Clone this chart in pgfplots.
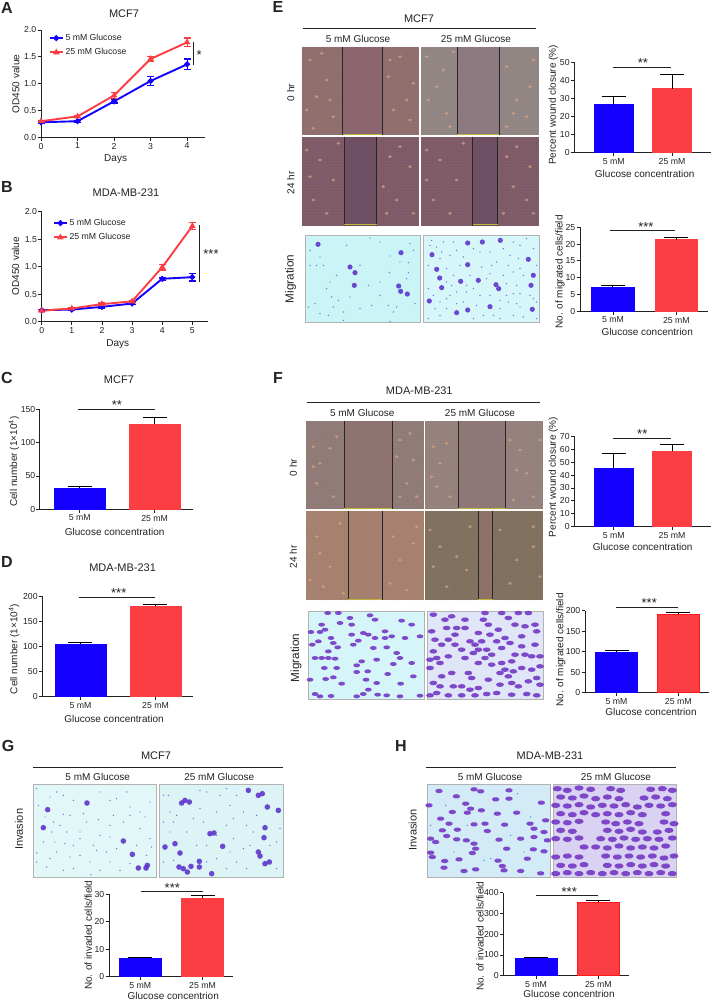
\documentclass[border=0pt]{standalone}
\usepackage{fontspec}
\setmainfont{Liberation Sans}
\usepackage{pgfplots}
\pgfplotsset{compat=1.18}
\usetikzlibrary{patterns}

\definecolor{ink}{HTML}{222222}
\definecolor{gblue}{HTML}{1400FF}
\definecolor{gred}{HTML}{FA3E44}
\definecolor{brightred}{HTML}{FF1A1A}
\definecolor{stain}{HTML}{5F36CC}
\definecolor{stainb}{HTML}{7438C4}
\definecolor{speck}{HTML}{4A50D8}
\definecolor{fleck}{HTML}{D9A585}
\newcommand\fs[1]{\fontsize{#1}{#1}\selectfont}

% all positions are reference pixels, 1px = 1pt, y downwards
\pgfplotsset{
  panel/.style n args={4}{
    at={(#1pt,-#2pt)},anchor=south west,width=#3pt,height=#4pt,
    scale only axis,clip=false,axis lines=left,
    axis line style={-,line width=1pt,ink},
    tick style={line width=.9pt,ink},tick align=outside,major tick length=3.5pt,
    ticklabel style={font=\fs{8.7},text=ink},
    xticklabel style={inner sep=2pt},yticklabel style={inner sep=1pt},
    /pgf/number format/assume math mode=true,
    ymin=0
  },
  xlab/.style n args={3}{xlabel={#1},xlabel style={at={(axis description cs:#2,#3)},anchor=center,font=\fs{10},text=ink}},
  ylab/.style n args={3}{ylabel={#1},ylabel style={at={(axis description cs:#2,#3)},anchor=center,font=\fs{10},text=ink}},
  ttl/.style n args={3}{title={#1},title style={at={(axis description cs:#2,#3)},anchor=center,font=\fs{11},text=ink}},
  catticks/.style={xtick={1,2},xticklabels={5 mM,25 mM}},
  onedec/.style={yticklabel style={/pgf/number format/.cd,fixed,fixed zerofill,precision=1}},
  barplot/.style={ybar,bar width=#1pt,bar shift=0pt,line width=.8pt,
    error bars/y dir=plus,error bars/y explicit,
    error bars/error bar style={line width=1pt,black},
    error bars/error mark options={black,mark size=12pt,line width=1pt,rotate=90}},
  linesty/.style={line width=1.9pt,color=#1,mark size=1.9pt,
    error bars/y dir=both,error bars/y explicit,
    error bars/error bar style={line width=1.1pt,#1},
    error bars/error mark options={#1,mark size=3.5pt,line width=1.1pt,rotate=90}},
  shortleg/.style={legend image code/.code={
    \draw[mark repeat=2,mark phase=2,##1] plot coordinates {(0cm,0cm) (0.22cm,0cm) (0.44cm,0cm)};}},
  sigline/.style={forget plot,mark=none,line width=1pt,ink},
  crop/.style n args={4}{at={(#1pt,-#2pt)},anchor=south west,width=#3pt,height=#4pt,
    scale only axis,hide axis,y dir=reverse,xmin=0,ymin=0},
  big/.style={only marks,mark=*,mark size=#1,color=stain,mark options={line width=0pt,fill opacity=.9,draw opacity=0}},
  slant/.style 2 args={only marks,mark=*,mark size=#1,color=stainb,mark options={line width=0pt,fill opacity=.9,draw opacity=0,xscale=1.7,rotate=#2}},
  dot/.style={only marks,mark=*,mark size=.7pt,color=speck,mark options={line width=0pt,fill opacity=.85,draw opacity=0}},
  flecks/.style={only marks,mark=*,mark size=1.5pt,color=fleck,mark options={line width=0pt,fill opacity=.7,draw opacity=0,xscale=1.3}}
}
\newcommand\bars[6]{%
  \addplot[barplot={#1},fill=gblue,draw=gblue] coordinates {(1,#2) +- (0,#3)};
  \addplot[barplot={#1},fill=gred,draw=#6] coordinates {(2,#4) +- (0,#5)};
}
\tikzset{stars/.style={font=\fs{13},text=ink,inner sep=0pt,anchor=center,yshift=-2.8pt},
  plab/.style={font=\fs{16}\bfseries,text=ink,inner sep=0pt,anchor=center},
  txt/.style={font=\fs{10},text=ink,inner sep=0pt,anchor=center}}
% photo frame: x1 y1 x2 y2 colour
\newcommand\photo[5]{\definecolor{tmpc}{HTML}{#5}\fill[tmpc,draw=black!30,line width=.8pt] (#1pt,-#2pt) rectangle (#3pt,-#4pt);}
% wound photo: x1 y1 x2 y2 line1 line2 cells gap grain
\newcommand\wound[9]{%
  \definecolor{tmpa}{HTML}{#7}\definecolor{tmpb}{HTML}{#8}\definecolor{tmpc}{HTML}{#9}%
  \fill[tmpa] (#1pt,-#2pt) rectangle (#3pt,-#4pt);
  \fill[pattern=crosshatch dots,pattern color=tmpc,opacity=.3] (#1pt,-#2pt) rectangle (#3pt,-#4pt);
  \fill[tmpb] (#5pt,-#2pt) rectangle (#6pt,-#4pt);
  \draw[line width=1pt,black!85] (#5pt,-#2pt) -- (#5pt,-#4pt) (#6pt,-#2pt) -- (#6pt,-#4pt);
  \draw[line width=.9pt,yellow!70!black] ([yshift=1pt]#5pt,-#4pt) -- ([yshift=1pt]#6pt,-#4pt);
}
\newcommand\topline[6]{%
  \node[txt,font=\fs{11}] at (#1pt,-#2pt) {#3};
  \draw[line width=1pt,ink] (#4pt,-#6pt) -- (#5pt,-#6pt);
}

\begin{document}
\begin{tikzpicture}
\useasboundingbox (0,0) rectangle (712pt,-1000pt);

% panel letters
\node[plab] at (7pt,-8pt) {A};
\node[plab] at (7pt,-187pt) {B};
\node[plab] at (7pt,-378pt) {C};
\node[plab] at (7pt,-562pt) {D};
\node[plab] at (278pt,-7pt) {E};
\node[plab] at (278pt,-378pt) {F};
\node[plab] at (8pt,-746pt) {G};
\node[plab] at (401pt,-746pt) {H};

% A
\begin{axis}[panel={41}{137.3}{164}{107.3},xmin=0,xmax=4.49,ymax=2,
  xtick={0,1,2,3,4},ytick={0,0.5,1,1.5,2},onedec,shortleg,
  ttl={MCF7}{.506}{1.10},xlab={Days}{.455}{-.199},ylab={OD450 value}{-.154}{.497},
  legend style={at={(axis description cs:.03,1.0)},anchor=north west,draw=none,fill=none,
    font=\fs{8.7},row sep=2.5pt,text=ink},legend cell align=left]
\addplot[linesty=gblue,mark=*] coordinates {(0,0.28) +- (0,0.02) (1,0.30) +- (0,0.02) (2,0.67) +- (0,0.03) (3,1.05) +- (0,0.08) (4,1.36) +- (0,0.10)};
\addplot[linesty=gred,mark=triangle*] coordinates {(0,0.30) +- (0,0.02) (1,0.39) +- (0,0.02) (2,0.78) +- (0,0.05) (3,1.46) +- (0,0.05) (4,1.77) +- (0,0.08)};
\legend{5 mM Glucose,25 mM Glucose}
\addplot[sigline] coordinates {(4.18,1.78) (4.18,1.35)};
\node[stars] at (axis cs:4.33,1.59) {*};
\end{axis}

% B
\begin{axis}[panel={41.7}{321.7}{166}{110},xmin=0,xmax=5.51,ymax=2,
  xtick={0,1,2,3,4,5},ytick={0,0.5,1,1.5,2},onedec,shortleg,
  ttl={MDA-MB-231}{.508}{1.115},xlab={Days}{.458}{-.206},ylab={OD450 value}{-.157}{.505},
  legend style={at={(axis description cs:.05,.97)},anchor=north west,draw=none,fill=none,
    font=\fs{8.7},row sep=2.5pt,text=ink},legend cell align=left]
\addplot[linesty=gblue,mark=*] coordinates {(0,0.21) +- (0,0.02) (1,0.22) +- (0,0.02) (2,0.27) +- (0,0.02) (3,0.33) +- (0,0.02) (4,0.78) +- (0,0.03) (5,0.81) +- (0,0.07)};
\addplot[linesty=gred,mark=triangle*] coordinates {(0,0.20) +- (0,0.02) (1,0.24) +- (0,0.02) (2,0.32) +- (0,0.02) (3,0.37) +- (0,0.02) (4,0.99) +- (0,0.05) (5,1.74) +- (0,0.07)};
\legend{5 mM Glucose,25 mM Glucose}
\addplot[sigline] coordinates {(5.24,1.76) (5.24,0.72)};
\node[stars] at (axis cs:5.62,1.285) {***};
\end{axis}

% C
\begin{axis}[panel={40}{509.3}{152.7}{100},xmin=.471,xmax=2.507,ymax=150,catticks,ytick={0,50,100,150},
  ttl={MCF7}{.517}{1.236},xlab={Glucose concentration}{.489}{-.227},ylab={Cell number (1×10\textsuperscript{4})}{-.170}{.476}]
\bars{51}{32}{1.5}{128}{10}{gred}
\addplot[sigline] coordinates {(.98,149) (2,149)};
\node[stars] at (axis cs:1.497,161) {**};
\end{axis}

% D
\begin{axis}[panel={42.3}{696.7}{151}{100.4},xmin=.491,xmax=2.504,ymax=200,catticks,ytick={0,50,100,150,200},
  ttl={MDA-MB-231}{.532}{1.222},xlab={Glucose concentration}{.475}{-.222},ylab={Cell number (1×10\textsuperscript{4})}{-.187}{.475}]
\bars{51}{104}{3}{180}{4}{gred}
\addplot[sigline] coordinates {(.977,198.6) (1.99,198.6)};
\node[stars] at (axis cs:1.51,213) {***};
\end{axis}

% E photos
\topline{419}{19}{MCF7}{303}{536}{28.3}
\node[txt] at (358pt,-38.5pt) {5 mM Glucose};
\node[txt] at (476pt,-38.5pt) {25 mM Glucose};
\wound{301.7}{46.7}{419.3}{135}{342.7}{382.3}{8F6E6E}{8B6670}{B88A7A}
\wound{421}{46.7}{539}{135}{457.3}{499.3}{918584}{8C7A80}{B39A8A}
\wound{301.7}{136.7}{419.3}{225.7}{344.3}{376.7}{7D5A68}{6F4F63}{AE7F78}
\wound{421}{136.7}{539}{225.7}{472.7}{497.7}{7D5A68}{6F4F63}{AE7F78}
\begin{axis}[crop={250}{290}{462}{290},xmax=1386,ymax=870]
\addplot[flecks] coordinates {(180,180)(200,290)(230,240)(170,330)(250,350)(215,160)(240,300)(190,385)(420,180)(450,170)(470,300)(430,330)(480,360)(415,230)(490,250)(530,170)(610,155)(560,260)(590,340)(535,300)(580,210)(600,380)(770,200)(800,300)(830,350)(790,340)(850,180)(840,260)(770,380)(170,450)(210,480)(250,540)(190,600)(230,640)(265,430)(180,530)(420,470)(450,440)(480,500)(400,560)(440,600)(490,640)(410,640)(530,450)(570,480)(620,540)(550,600)(600,640)(640,430)(530,540)(770,470)(800,440)(840,500)(790,560)(830,600)(850,640)(760,640)};
\end{axis}
\node[txt,rotate=90] at (290.7pt,-92.7pt) {0 hr};
\node[txt,rotate=90] at (290.7pt,-183pt) {24 hr};
\node[txt,rotate=90,font=\fs{11.7}] at (290.7pt,-279pt) {Migration};
\photo{305}{235}{420.7}{322.7}{CBF4F7}
\photo{423.3}{235}{539.3}{322.7}{D6F6F9}

% E migration stain, points in 3x crop pixels
\begin{axis}[crop={300}{326}{242}{94},xmax=726,ymax=282]
\addplot[big=2.6pt] coordinates {(54,37)(303,62)(150,105)(165,122)(163,160)(296,162)(302,178)(322,186)(396,68)(503,33)(547,30)(601,25)(503,98)(410,112)(419,138)(425,167)(535,145)(482,148)(588,158)(596,170)(388,207)(470,242)(503,234)(570,224)(685,82)(700,130)(693,160)(697,232)};
\addplot[dot] coordinates {(30,55)(60,75)(140,40)(210,18)(240,30)(330,35)(270,72)(300,90)(325,92)(50,100)(70,100)(30,100)(110,130)(268,122)(325,122)(90,150)(205,160)(240,150)(150,195)(95,195)(115,205)(45,215)(25,225)(60,245)(85,250)(130,265)(215,220)(265,220)(290,225)(345,215)(270,268)(180,230)(100,225)(80,170)(320,140)(340,55)(180,100)(240,190)(280,240)(130,240)(390,40)(410,45)(430,30)(450,70)(470,55)(490,75)(520,50)(570,60)(590,90)(630,70)(660,40)(680,20)(700,50)(385,100)(440,110)(460,130)(470,180)(450,190)(440,200)(400,190)(385,170)(500,180)(520,170)(540,190)(570,190)(610,130)(620,190)(640,185)(660,185)(650,215)(625,210)(600,230)(550,250)(530,220)(440,230)(420,250)(385,260)(600,260)(640,250)(670,255)(700,200)(710,100)(570,125)(510,130)(640,120)(660,110)(420,210)(490,210)(575,100)(540,60)(395,25)(460,30)(420,80)(480,100)(545,105)(610,50)(640,30)(655,80)(625,100)(440,150)(455,160)(500,160)(560,140)(620,155)(650,160)(670,130)(600,205)(580,250)(520,260)(470,215)(405,230)(660,225)(690,190)(710,210)(710,260)(425,60)};
\end{axis}

% E bars
\begin{axis}[panel={574.3}{152.7}{136.7}{90.4},xmin=.324,xmax=2.669,ymax=50,catticks,ytick={0,10,20,30,40,50},
  xlab={Glucose concentration}{.515}{-.236},ylab={Percent wound closure (\%)}{-.154}{.530}]
\bars{39.3}{26.5}{4.5}{35.5}{8}{gred}
\addplot[sigline] coordinates {(.98,47.2) (1.983,47.2)};
\node[stars] at (axis cs:1.5,51.3) {**};
\end{axis}
\begin{axis}[panel={580}{311.3}{127.7}{84},xmin=.479,xmax=2.496,ymax=25,catticks,ytick={0,5,10,15,20,25},
  xlab={Glucose concentrion}{.527}{-.243},ylab={No. of migrated cells/field}{-.157}{.468}]
\bars{42.7}{7.2}{.4}{21.3}{.7}{gred}
\addplot[sigline] coordinates {(.96,24) (1.98,24)};
\node[stars] at (axis cs:1.52,25.8) {***};
\end{axis}

% F photos
\topline{419.3}{391}{MDA-MB-231}{306.7}{540}{402.7}
\node[txt] at (362.3pt,-413pt) {5 mM Glucose};
\node[txt] at (480pt,-413pt) {25 mM Glucose};
\wound{306}{421}{424}{509.3}{344.3}{392.3}{8F7A78}{8E7270}{B89A85}
\wound{425}{421}{542.7}{509.3}{458.3}{505.7}{94807C}{8F7677}{BC9C88}
\wound{306}{510.7}{424}{600}{348}{382}{A5806F}{A5806F}{C9A088}
\wound{425.3}{510.7}{542.7}{600}{478}{492.7}{807060}{8D7268}{A88C78}
\begin{axis}[crop={300}{602}{246}{182},xmax=738,ymax=546]
\addplot[flecks] coordinates {(40,80)(90,85)(60,130)(40,140)(50,190)(100,230)(110,50)(300,60)(330,40)(290,110)(340,120)(320,190)(350,230)(300,230)(400,80)(420,130)(440,70)(410,200)(450,230)(395,170)(650,150)(680,160)(640,240)(700,230)(660,90)(720,60)(630,60)(50,350)(60,400)(30,480)(90,440)(120,310)(130,520)(70,500)(280,350)(300,420)(340,370)(270,490)(320,510)(350,320)(390,330)(420,380)(470,410)(500,450)(440,500)(510,320)(400,440)(600,330)(650,420)(700,380)(630,490)(720,470)(700,320)};
\end{axis}
\node[txt,rotate=90] at (293.3pt,-467.7pt) {0 hr};
\node[txt,rotate=90] at (293.3pt,-557pt) {24 hr};
\node[txt,rotate=90,font=\fs{11.7}] at (296pt,-658pt) {Migration};
\photo{308}{611.3}{424.3}{699}{D6F5F8}
\photo{427}{611.3}{543.3}{699}{E0E6F8}

\begin{axis}[crop={305}{702}{242}{94},xmax=726,ymax=282]
\addplot[slant={2pt}{35}] coordinates {(50,50)(60,65)(18,72)(45,72)(135,30)(105,45)(140,50)(210,35)(195,22)(290,38)(320,50)(100,15)(68,15)(240,70)(175,75)(190,80)(140,80)(160,98)(210,90)(240,90)(260,85)(300,90)(345,85)(40,100)(78,90)(85,105)(145,110)(205,120)(245,118)(275,135)(285,150)(98,118)(70,130)(22,110)(30,150)(50,150)(70,150)(90,152)(58,180)(95,180)(170,160)(155,172)(215,155)(265,168)(320,165)(155,192)(188,190)(248,198)(325,205)(85,208)(62,213)(15,215)(183,215)(215,225)(287,227)(110,227)(30,258)(45,265)(78,264)(155,265)(190,245)(175,258)(218,260)(245,262)(285,265)(345,263)};
\addplot[slant={2.3pt}{35}] coordinates {(385,20)(420,35)(440,25)(480,35)(455,60)(425,60)(380,70)(450,80)(480,60)(535,35)(550,50)(580,65)(610,30)(630,50)(660,55)(695,70)(690,50)(540,15)(590,15)(640,15)(670,15)(650,85)(520,75)(555,80)(450,110)};
\addplot[slant={2.3pt}{-35}] coordinates {(390,95)(410,110)(385,130)(430,95)(470,125)(495,100)(510,110)(520,125)(505,135)(530,100)(545,125)(575,100)(600,90)(615,105)(590,120)(630,140)(650,115)(690,110)(680,145)(705,145)(660,140)(560,140)(540,150)};
\addplot[slant={2.3pt}{50}] coordinates {(375,155)(395,150)(405,165)(375,180)(430,145)(480,150)(520,165)(560,170)(590,165)(600,185)(585,195)(620,160)(625,190)(610,205)(650,180)(680,185)(705,175)(410,205)(385,225)(405,235)(440,195)(490,195)(500,210)(445,235)(470,235)(495,245)(520,240)(550,215)(585,230)(620,225)(640,235)(670,220)(695,210)(705,230)(375,262)(395,255)(430,262)(470,262)(510,262)(545,258)(575,255)(620,260)(665,258)(695,262)};
\end{axis}

% F bars
\begin{axis}[panel={574.3}{526.7}{136.7}{90.4},xmin=.324,xmax=2.669,ymax=70,catticks,ytick={0,10,20,30,40,50,60,70},
  xlab={Glucose concentration}{.500}{-.221},ylab={Percent wound closure (\%)}{-.154}{.550}]
\bars{39.3}{45.2}{11.4}{58.6}{4.7}{gred}
\addplot[sigline] coordinates {(.98,68.1) (1.98,68.1)};
\node[stars] at (axis cs:1.49,73.9) {**};
\end{axis}
\begin{axis}[panel={585}{692.7}{124.3}{82},xmin=.489,xmax=2.504,ymax=200,catticks,ytick={0,50,100,150,200},
  xlab={Glucose concentrion}{.531}{-.239},ylab={No. of migrated cells/field}{-.195}{.521}]
\bars{41.7}{97.6}{4.8}{191}{5}{brightred}
\addplot[sigline] coordinates {(.99,207) (2,207)};
\node[stars] at (axis cs:1.53,226) {***};
\end{axis}

% G
\topline{156}{755.3}{MCF7}{33.3}{283.3}{767.3}
\node[txt] at (97.7pt,-776.7pt) {5 mM Glucose};
\node[txt] at (219.3pt,-776.7pt) {25 mM Glucose};
\node[txt,rotate=90,font=\fs{11}] at (19pt,-829.3pt) {Invasion};
\photo{33.3}{784.3}{156.7}{877}{E2F7F8}
\photo{159.3}{784.3}{283}{877}{DDF4F7}
\begin{axis}[crop={30}{880}{256}{98},xmax=768,ymax=294]
\addplot[big=2.8pt] coordinates {(53,83)(171,63)(40,137)(280,177)(325,258)(348,258)(352,250)(307,217)(655,25)(685,40)(697,35)(712,75)(745,85)(465,55)(455,63)(478,60)(705,137)(702,167)(540,155)(552,153)(578,193)(405,195)(435,185)(450,213)(447,255)(460,260)(483,253)(508,238)(508,255)(472,270)(545,275)(685,210)(690,222)(705,245)(718,240)};
\addplot[dot] coordinates {(20,20)(60,45)(80,30)(130,55)(25,70)(240,55)(260,50)(300,75)(330,90)(100,97)(170,120)(205,113)(70,120)(90,130)(65,150)(150,150)(210,160)(240,165)(75,180)(150,170)(20,213)(80,210)(150,220)(230,210)(260,200)(365,195)(350,220)(20,240)(50,255)(100,265)(183,278)(180,240)(240,240)(300,245)(280,120)(330,140)(360,60)(130,190)(110,150)(190,190)(45,105)(120,100)(160,95)(250,100)(300,100)(345,105)(40,180)(105,185)(200,205)(120,225)(60,230)(130,260)(210,265)(270,265)(360,170)(320,190)(240,130)(100,40)(210,30)(290,30)(400,40)(420,90)(430,120)(400,120)(510,80)(560,90)(600,70)(620,40)(530,30)(640,90)(590,130)(470,150)(500,190)(530,190)(610,170)(640,200)(620,240)(590,260)(650,130)(670,150)(740,180)(750,140)(740,260)(650,260)(560,230)(400,240)(420,150)(490,110)(570,40)(680,100)(440,100)(520,120)(610,110)(560,160)(660,190)(720,190)(430,235)(530,240)(600,210)(415,40)(510,25)(590,20)};
\end{axis}
\begin{axis}[panel={109}{976.7}{124.3}{82.7},xmin=.499,xmax=2.494,ymax=30,catticks,ytick={0,10,20,30},
  xlab={Glucose concentrion}{.517}{-.230},ylab={No. of invaded cells/field}{-.167}{.501}]
\bars{42.3}{6.65}{.35}{28.4}{.9}{gred}
\addplot[sigline] coordinates {(1.01,31) (2,31)};
\node[stars] at (axis cs:1.515,33.3) {***};
\end{axis}

% H
\topline{550}{756}{MDA-MB-231}{426}{676}{767.3}
\node[txt] at (490pt,-776.7pt) {5 mM Glucose};
\node[txt] at (616pt,-776.7pt) {25 mM Glucose};
\node[txt,rotate=90,font=\fs{11}] at (412.7pt,-830pt) {Invasion};
\photo{427}{784.3}{550.7}{877.3}{D2EBF6}
\photo{553.3}{784.3}{676.7}{877.3}{D9D2F2}
\begin{axis}[crop={424}{880}{256}{98},xmax=768,ymax=294]
\addplot[slant={2.2pt}{30}] coordinates {(45,27)(150,22)(170,28)(255,25)(97,43)(255,50)(15,70)(125,65)(140,80)(172,85)(215,52)(85,90)(130,92)(352,62)(220,95)(278,92)(50,110)(75,125)(150,127)(183,125)(242,128)(318,125)(365,115)(100,143)(190,147)(55,145)(68,162)(330,140)(360,150)(330,165)(20,170)(35,180)(98,172)(127,175)(225,173)(290,170)(150,185)(155,200)(145,213)(248,200)(328,202)(360,208)(370,175)(20,212)(25,225)(105,232)(222,236)(310,230)(62,237)(60,257)(235,252)(240,265)(155,262)(120,267)(290,267)(350,274)};
\addplot[dot,color=cyan!55!blue] coordinates {(65,70)(280,35)(320,105)(130,130)(200,230)(180,235)(90,210)(20,130)(260,160)(300,210)};
\addplot[slant={2.7pt}{50}] coordinates {(400,20)(430,25)(465,18)(500,22)(560,20)(590,25)(680,22)(715,20)(745,25)(410,45)(445,48)(480,42)(515,50)(550,45)(585,50)(660,48)(695,45)(730,50)(395,70)(430,72)(465,68)(500,75)(535,70)(570,72)(605,68)(640,75)(675,70)(710,72)(745,68)(410,95)(445,98)(480,92)(515,98)(550,95)(585,98)(620,92)(655,98)(725,95)};
\addplot[slant={2.7pt}{-45}] coordinates {(395,120)(430,122)(465,118)(545,120)(575,125)(610,120)(645,125)(720,120)(750,125)(410,145)(445,148)(550,145)(585,148)(620,142)(655,150)(700,150)(735,145)(395,170)(430,172)(465,168)(530,170)(565,172)(600,168)(635,172)(670,170)(705,172)(745,168)(480,195)(515,195)(550,198)(585,192)(620,198)(655,195)(690,198)(725,192)};
\addplot[slant={2.7pt}{70}] coordinates {(395,225)(430,222)(465,225)(545,222)(580,225)(615,222)(650,225)(685,222)(720,228)(750,222)(410,250)(445,252)(480,248)(550,250)(585,252)(620,248)(655,252)(690,248)(725,252)(395,275)(430,272)(465,275)(500,272)(535,275)(570,272)(605,275)(640,272)(675,275)(710,272)(745,275)};
\end{axis}
\begin{axis}[panel={503.3}{975.7}{125.7}{83},xmin=.475,xmax=2.493,ymax=400,catticks,ytick={0,100,200,300,400},
  xlab={Glucose concentrion}{.523}{-.224},ylab={No. of invaded cells/field}{-.185}{.475}]
\bars{42}{83.5}{4.5}{353}{8}{brightred}
\addplot[sigline] coordinates {(1,387.5) (2,387.5)};
\node[stars] at (axis cs:1.534,418) {***};
\end{axis}
\end{tikzpicture}
\end{document}
